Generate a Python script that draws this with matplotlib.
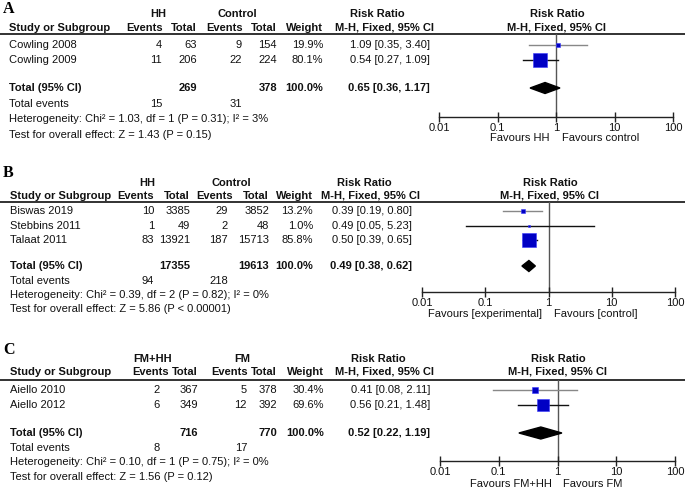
import matplotlib
matplotlib.use("Agg")
import matplotlib.pyplot as plt
import numpy as np

# ---------------- data ----------------
# Panel A
studies_A = ["Cowling 2008", "Cowling 2009"]
exp_ev_A = [4, 11]
exp_tot_A = [63, 206]
ctl_ev_A = [9, 22]
ctl_tot_A = [154, 224]
weight_A = [19.9, 80.1]
rr_A = [1.09, 0.54]
lo_A = [0.35, 0.27]
hi_A = [3.40, 1.09]
total_A = {"exp_tot": 269, "ctl_tot": 378, "rr": 0.65, "lo": 0.36, "hi": 1.17,
           "exp_ev": 15, "ctl_ev": 31}
het_A = "Heterogeneity: Chi² = 1.03, df = 1 (P = 0.31); I² = 3%"
test_A = "Test for overall effect: Z = 1.43 (P = 0.15)"
groups_A = ["HH", "Control"]
favours_A = ["Favours HH", "Favours control"]

# Panel B
studies_B = ["Biswas 2019", "Stebbins 2011", "Talaat 2011"]
exp_ev_B = [10, 1, 83]
exp_tot_B = [3385, 49, 13921]
ctl_ev_B = [29, 2, 187]
ctl_tot_B = [3852, 48, 15713]
weight_B = [13.2, 1.0, 85.8]
rr_B = [0.39, 0.49, 0.50]
lo_B = [0.19, 0.05, 0.39]
hi_B = [0.80, 5.23, 0.65]
total_B = {"exp_tot": 17355, "ctl_tot": 19613, "rr": 0.49, "lo": 0.38, "hi": 0.62,
           "exp_ev": 94, "ctl_ev": 218}
het_B = "Heterogeneity: Chi² = 0.39, df = 2 (P = 0.82); I² = 0%"
test_B = "Test for overall effect: Z = 5.86 (P < 0.00001)"
groups_B = ["HH", "Control"]
favours_B = ["Favours [experimental]", "Favours [control]"]

# Panel C
studies_C = ["Aiello 2010", "Aiello 2012"]
exp_ev_C = [2, 6]
exp_tot_C = [367, 349]
ctl_ev_C = [5, 12]
ctl_tot_C = [378, 392]
weight_C = [30.4, 69.6]
rr_C = [0.41, 0.56]
lo_C = [0.08, 0.21]
hi_C = [2.11, 1.48]
total_C = {"exp_tot": 716, "ctl_tot": 770, "rr": 0.52, "lo": 0.22, "hi": 1.19,
           "exp_ev": 8, "ctl_ev": 17}
het_C = "Heterogeneity: Chi² = 0.10, df = 1 (P = 0.75); I² = 0%"
test_C = "Test for overall effect: Z = 1.56 (P = 0.12)"
groups_C = ["FM+HH", "FM"]
favours_C = ["Favours FM+HH", "Favours FM"]

axis_ticks = [0.01, 0.1, 1, 10, 100]
axis_labels = ["0.01", "0.1", "1", "10", "100"]

# ---------------- layout / style ----------------
W, H = 685, 488
FONT = "Liberation Sans"
FS = 8.0
TXT = "#111111"
BLUE = "#0000c4"

fig = plt.figure(figsize=(W / 100, H / 100), dpi=100)
tax = fig.add_axes([0, 0, 1, 1])
tax.set_xlim(0, W)
tax.set_ylim(H, 0)
tax.axis("off")


def t(x, y, s, ha="left", bold=False, size=FS, **kw):
    tax.text(x, y, s, ha=ha, va="center", fontsize=size, family=FONT,
             fontweight="bold" if bold else "normal", color=TXT, **kw)


def panel(letter, ly, lay, studies, exp_ev, exp_tot, ctl_ev, ctl_tot, weight,
          rr, lo, hi, total, het, test, groups, favours, ci_colors):
    # letter
    tax.text(3, ly, letter, ha="left", va="center", fontsize=11.5,
             family="Liberation Serif", fontweight="bold", color="black")
    gy, sy, hl = lay["gy"], lay["sy"], lay["hl"]
    c = lay["cols"]
    t(lay["g1"], gy, groups[0], ha="center", bold=True)
    t(lay["g2"], gy, groups[1], ha="center", bold=True)
    t(lay["rr1"], gy, "Risk Ratio", ha="center", bold=True)
    t(lay["rr2"], sy, "M-H, Fixed, 95% CI", ha="center", bold=True)
    t(lay["fc"], gy, "Risk Ratio", ha="center", bold=True)
    t(lay["fc"], sy, "M-H, Fixed, 95% CI", ha="center", bold=True)
    t(lay["sx"], sy, "Study or Subgroup", bold=True)
    for x, s in zip(c, ["Events", "Total", "Events", "Total", "Weight"]):
        t(x, sy, s, ha="right", bold=True)
    tax.plot([0, W], [hl, hl], color="#222222", lw=1.3, solid_capstyle="butt")

    vc = lay["vcols"]
    for i, name in enumerate(studies):
        y = lay["rows"][i]
        t(lay["sx"], y, name)
        t(vc[0], y, str(exp_ev[i]), ha="right")
        t(vc[1], y, str(exp_tot[i]), ha="right")
        t(vc[2], y, str(ctl_ev[i]), ha="right")
        t(vc[3], y, str(ctl_tot[i]), ha="right")
        t(vc[4], y, f"{weight[i]:.1f}%", ha="right")
        t(lay["rrx"], y, f"{rr[i]:.2f} [{lo[i]:.2f}, {hi[i]:.2f}]", ha="right")
    ty = lay["ty"]
    t(lay["sx"], ty, "Total (95% CI)", bold=True)
    t(vc[1], ty, str(total["exp_tot"]), ha="right", bold=True)
    t(vc[3], ty, str(total["ctl_tot"]), ha="right", bold=True)
    t(vc[4], ty, "100.0%", ha="right", bold=True)
    t(lay["rrx"], ty, f"{total['rr']:.2f} [{total['lo']:.2f}, {total['hi']:.2f}]",
      ha="right", bold=True)
    ey = lay["ey"]
    t(lay["sx"], ey, "Total events")
    t(vc[0], ey, str(total["exp_ev"]), ha="right")
    t(vc[2], ey, str(total["ctl_ev"]), ha="right")
    t(lay["sx"], lay["hy"], het)
    t(lay["sx"], lay["zy"], test)

    # forest axes
    x0, x1, ab = lay["fx0"], lay["fx1"], lay["ay"]
    fax = fig.add_axes([x0 / W, 1 - ab / H, (x1 - x0) / W, (ab - hl) / H])
    fax.set_xscale("log")
    fax.set_xlim(0.01, 100)
    fax.set_ylim(ab, hl)
    fax.patch.set_alpha(0)
    for sp in ["top", "left", "right"]:
        fax.spines[sp].set_visible(False)
    fax.spines["bottom"].set_linewidth(1.0)
    fax.spines["bottom"].set_color("#222222")
    fax.set_yticks([])
    fax.set_xticks(axis_ticks)
    fax.set_xticklabels(axis_labels, family=FONT, fontsize=FS, color=TXT)
    fax.minorticks_off()
    fax.tick_params(axis="x", direction="inout", length=7, width=1.0,
                    color="#222222", pad=1)
    fax.axvline(1, color="#555555", lw=1.0, zorder=1)
    for i in range(len(studies)):
        y = lay["rows"][i]
        fax.plot([lo[i], hi[i]], [y, y], color=ci_colors[i], lw=1.0, zorder=2,
                 clip_on=False)
        side_px = max(2.0, 0.61 * weight[i] ** 0.7)
        fax.plot([rr[i]], [y], marker="s", ms=side_px * 0.72, color=BLUE,
                 mec="#3a3aff", mew=0.4, zorder=3, clip_on=False)
    dh = lay["dh"] / 2
    fax.fill([total["lo"], total["rr"], total["hi"], total["rr"]],
             [ty, ty - dh, ty, ty + dh], color="black", zorder=3, clip_on=False)
    xm = x0 + (x1 - x0) / 2
    t(xm - 6, lay["fy"], favours[0], ha="right")
    t(xm + 6, lay["fy"], favours[1], ha="left")


lay_A = dict(gy=14, sy=28, hl=34, g1=158, g2=237, rr1=377, rr2=385, fc=557,
             sx=9, cols=[163, 197, 243, 277, 323], vcols=[162, 197, 242, 277, 323],
             rows=[45, 60], ty=88, ey=104, hy=119, zy=135, rrx=430,
             fx0=439, fx1=673, ay=117, fy=138, dh=11)
lay_B = dict(gy=183, sy=196, hl=202, g1=147, g2=231, rr1=364, rr2=371, fc=550,
             sx=10, cols=[154, 190, 233, 269, 313], vcols=[154, 190, 228, 269, 313],
             rows=[211, 226, 240], ty=266, ey=281, hy=295, zy=309, rrx=412,
             fx0=422, fx1=675, ay=292, fy=314, dh=11)
lay_C = dict(gy=359, sy=372, hl=380, g1=153, g2=242, rr1=378, rr2=385, fc=558,
             sx=10, cols=[169, 198, 248, 277, 324], vcols=[160, 198, 247, 277, 324],
             rows=[390, 405], ty=433, ey=448, hy=462, zy=477, rrx=430,
             fx0=440, fx1=675, ay=461, fy=484, dh=12)

panel("A", 9, lay_A, studies_A, exp_ev_A, exp_tot_A, ctl_ev_A, ctl_tot_A, weight_A,
      rr_A, lo_A, hi_A, total_A, het_A, test_A, groups_A, favours_A,
      ["#888888", "#111111"])
panel("B", 173, lay_B, studies_B, exp_ev_B, exp_tot_B, ctl_ev_B, ctl_tot_B, weight_B,
      rr_B, lo_B, hi_B, total_B, het_B, test_B, groups_B, favours_B,
      ["#888888", "#111111", "#111111"])
panel("C", 350, lay_C, studies_C, exp_ev_C, exp_tot_C, ctl_ev_C, ctl_tot_C, weight_C,
      rr_C, lo_C, hi_C, total_C, het_C, test_C, groups_C, favours_C,
      ["#888888", "#111111"])

fig.savefig("out.png", dpi=100)
